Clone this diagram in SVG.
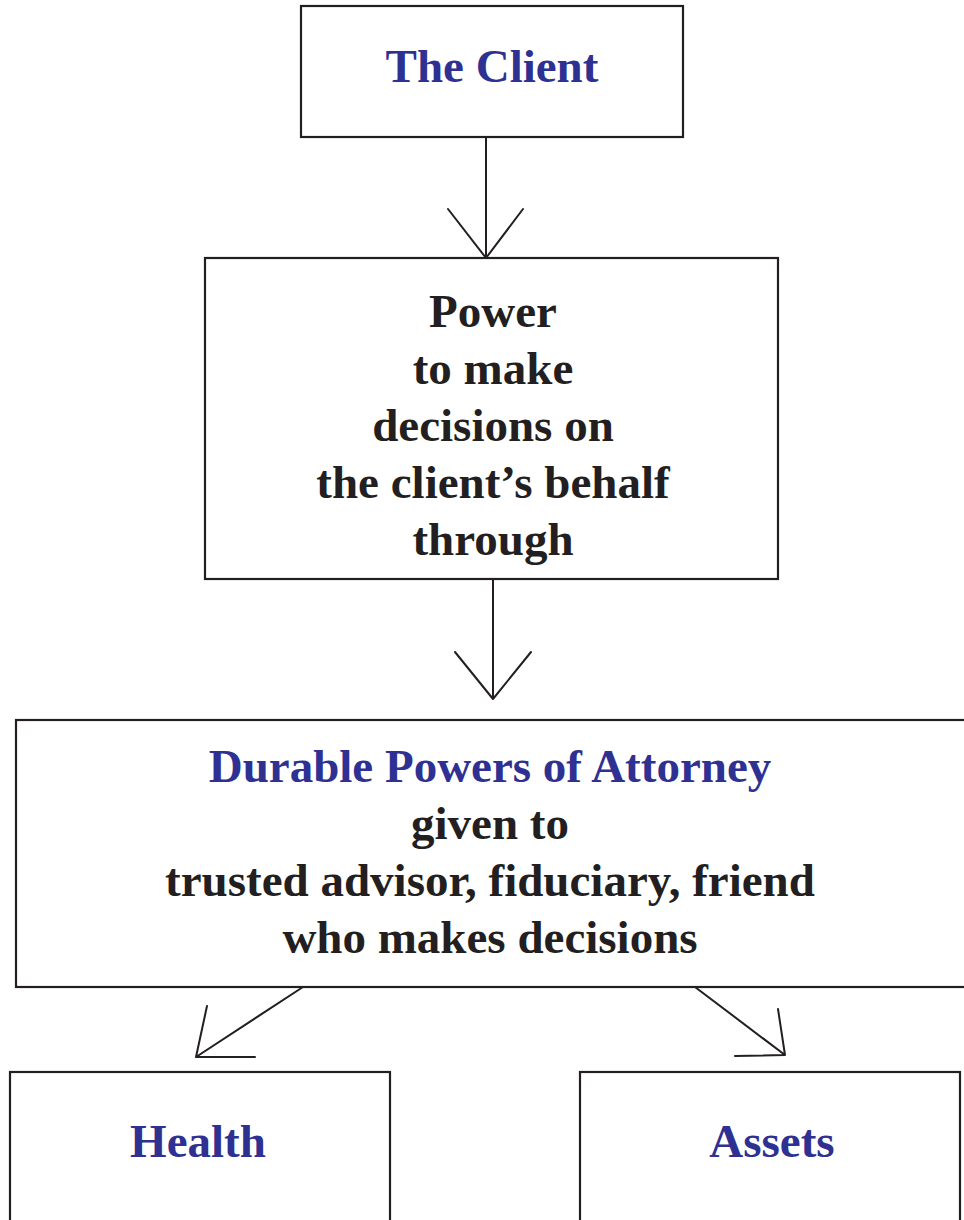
<svg xmlns="http://www.w3.org/2000/svg" width="964" height="1220" viewBox="0 0 964 1220">
<style>
.box{fill:#fff;stroke:#231f20;stroke-width:2.2}
.t{font-family:"Liberation Serif","Times New Roman",serif;font-weight:bold;font-size:47px;text-anchor:middle}
.b{fill:#2e3192}
.k{fill:#231f20}
.c{fill:none;stroke:#231f20;stroke-width:2;stroke-linecap:round;stroke-linejoin:round}
</style>
<rect width="964" height="1220" fill="#fff"/>
<g id="client">
<rect class="box" x="301" y="6" width="382" height="131"/>
<text class="t b" x="492" y="82">The Client</text>
</g>
<g id="power">
<rect class="box" x="205" y="258" width="573" height="321"/>
<text class="t k" x="493" y="327">Power</text>
<text class="t k" x="493" y="384">to make</text>
<text class="t k" x="493" y="441">decisions on</text>
<text class="t k" x="493" y="498">the client’s behalf</text>
<text class="t k" x="493" y="555">through</text>
</g>
<g id="dpoa">
<rect class="box" x="16" y="720" width="960" height="267"/>
<text class="t b" x="490" y="782">Durable Powers of Attorney</text>
<text class="t k" x="490" y="839">given to</text>
<text class="t k" x="490" y="896">trusted advisor, fiduciary, friend</text>
<text class="t k" x="490" y="953">who makes decisions</text>
</g>
<g id="health">
<rect class="box" x="10" y="1072" width="380" height="160"/>
<text class="t b" x="198" y="1157">Health</text>
</g>
<g id="assets">
<rect class="box" x="580" y="1072" width="380" height="160"/>
<text class="t b" x="772" y="1157">Assets</text>
</g>
<g id="connectors">
<path class="c" d="M486 137V258M448 209L486 258L523 209"/>
<path class="c" d="M493 579V699M455 652L493 699L531 652"/>
<path class="c" d="M303 987L196 1057M207 1006L196 1057L255 1057"/>
<path class="c" d="M695 987L785 1055M778 1009L785 1055L735 1056"/>
</g>
</svg>
